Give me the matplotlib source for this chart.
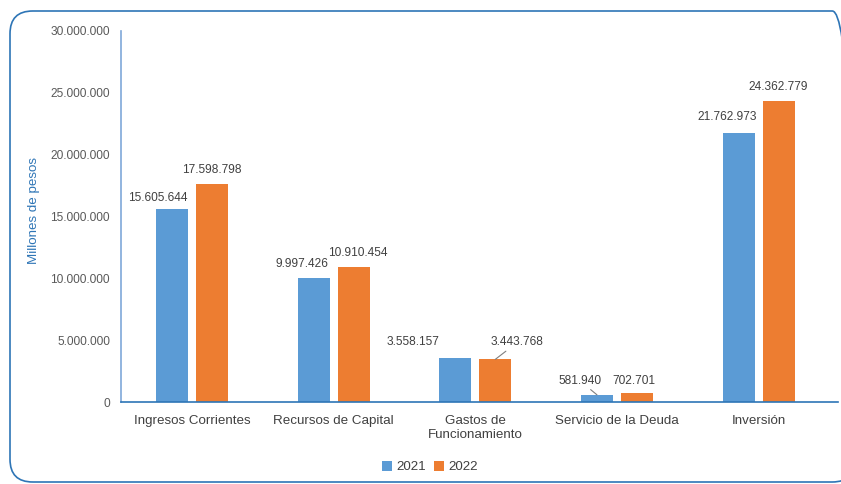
import matplotlib.pyplot as plt
import numpy as np
from matplotlib.patches import FancyBboxPatch
from matplotlib.ticker import FuncFormatter

plt.rcParams["font.family"] = ["Liberation Sans", "DejaVu Sans"]

categories = ["Ingresos Corrientes", "Recursos de Capital", "Gastos de\nFuncionamiento",
              "Servicio de la Deuda", "Inversión"]
years = ["2021", "2022"]
values_2021 = [15605644, 9997426, 3558157, 581940, 21762973]
values_2022 = [17598798, 10910454, 3443768, 702701, 24362779]
y_ticks = [0, 5000000, 10000000, 15000000, 20000000, 25000000, 30000000]

BLUE = "#5B9BD5"
ORANGE = "#ED7D31"
TEXT = "#404040"
FRAME = "#2E75B6"


def fmt_miles(v):
    return f"{int(round(v)):,}".replace(",", ".")


fig = plt.figure(figsize=(8.41, 4.84), dpi=100)
ax = fig.add_axes([0.1439, 0.1694, 0.8424, 0.7666])

# rounded frame around the whole chart
frame = FancyBboxPatch((10 / 841, 2 / 484), 845 / 841, 471 / 484,
                       boxstyle="round,pad=0,rounding_size=0.027",
                       transform=fig.transFigure, fill=False,
                       edgecolor=FRAME, linewidth=1.2, clip_on=False,
                       mutation_aspect=841 / 484)
fig.patches.append(frame)

x = np.arange(len(categories))
w = 0.226
off = 0.141
b1 = ax.bar(x - off, values_2021, w, color=BLUE, label=years[0], zorder=2)
b2 = ax.bar(x + off, values_2022, w, color=ORANGE, label=years[1], zorder=2)

# label offsets in pixels (dx, dy) relative to the top centre of each bar
offs_2021 = [(-14, 11), (-12, 14), (-42, 16), (-17, 14), (-11, 16)]
offs_2022 = [(0, 14), (4, 14), (22, 17), (-3, 12), (0, 14)]
leader_2021 = [False, False, False, True, False]
leader_2022 = [False, False, True, False, False]

for bars, vals, offs, leads in [(b1, values_2021, offs_2021, leader_2021),
                                (b2, values_2022, offs_2022, leader_2022)]:
    for bar, v, (dx, dy), lead in zip(bars, vals, offs, leads):
        cx = bar.get_x() + bar.get_width() / 2
        kw = {}
        if lead:
            kw["arrowprops"] = dict(arrowstyle="-", color="#7F7F7F", lw=0.8,
                                    shrinkA=0, shrinkB=0)
        ax.annotate(fmt_miles(v), xy=(cx, v), xytext=(dx, dy),
                    textcoords="offset pixels", ha="center", va="center",
                    fontsize=8.6, color=TEXT, **kw)

ax.set_xlim(-0.5, len(categories) - 0.5)
ax.set_ylim(0, 30000000)
ax.set_yticks(y_ticks)
ax.yaxis.set_major_formatter(FuncFormatter(lambda v, p: fmt_miles(v)))
ax.set_xticks(x)
ax.set_xticklabels(categories, fontsize=9.6, color=TEXT, linespacing=1.3)
ax.tick_params(axis="y", length=0, labelsize=8.6, labelcolor="#595959", pad=8)
ax.tick_params(axis="x", length=0, pad=9)

for s in ["top", "right"]:
    ax.spines[s].set_visible(False)
ax.spines["left"].set_color("#7FA8D9")
ax.spines["left"].set_linewidth(1.2)
ax.spines["bottom"].set_color(FRAME)
ax.spines["bottom"].set_linewidth(1.2)
ax.spines["bottom"].set_bounds(-0.5, 4.56)

ax.set_ylabel("Millones de pesos", color=FRAME, fontsize=9.6)
ax.yaxis.set_label_coords(-0.115, 0.517)

leg = fig.legend(handles=[b1, b2], labels=years, loc="center",
                 bbox_to_anchor=(430 / 841, 1 - 467 / 484), ncol=2,
                 frameon=False, fontsize=9.6, handlelength=0.75, handleheight=0.75,
                 handletextpad=0.3, columnspacing=0.6)
for t in leg.get_texts():
    t.set_color(TEXT)

fig.savefig("out.png", dpi=100)
